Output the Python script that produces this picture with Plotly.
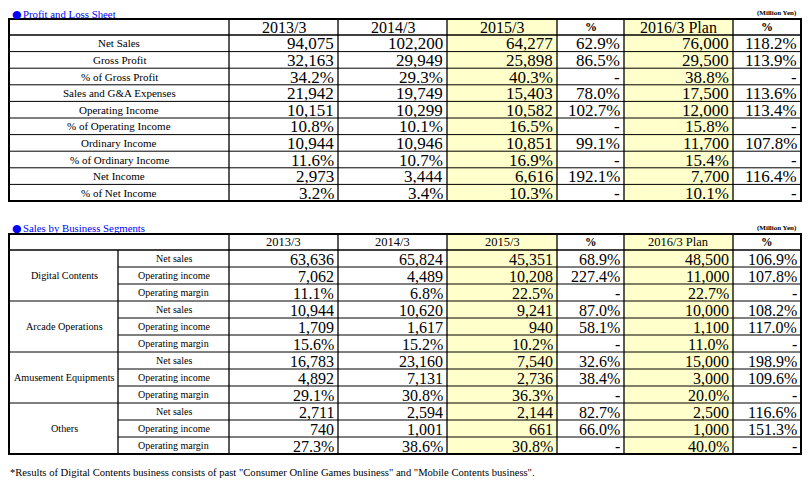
import plotly.graph_objects as go

# ---- data ----
headers = ["2013/3", "2014/3", "2015/3", "%", "2016/3 Plan", "%"]

pl_items = ["Net Sales", "Gross Profit", "% of Gross Profit", "Sales and G&A Expenses",
            "Operating Income", "% of Operating Income", "Ordinary Income",
            "% of Ordinary Income", "Net Income", "% of Net Income"]
pl_is_pct = [False, False, True, False, False, True, False, True, False, True]
pl_2013 = [94075, 32163, 34.2, 21942, 10151, 10.8, 10944, 11.6, 2973, 3.2]
pl_2014 = [102200, 29949, 29.3, 19749, 10299, 10.1, 10946, 10.7, 3444, 3.4]
pl_2015 = [64277, 25898, 40.3, 15403, 10582, 16.5, 10851, 16.9, 6616, 10.3]
pl_yoy = [62.9, 86.5, None, 78.0, 102.7, None, 99.1, None, 192.1, None]
pl_2016 = [76000, 29500, 38.8, 17500, 12000, 15.8, 11700, 15.4, 7700, 10.1]
pl_plan_pct = [118.2, 113.9, None, 113.6, 113.4, None, 107.8, None, 116.4, None]

seg_names = ["Digital Contents", "Arcade Operations", "Amusement Equipments", "Others"]
seg_metrics = ["Net sales", "Operating income", "Operating margin"]
seg_is_pct = [False, False, True]
seg_2013 = [63636, 7062, 11.1, 10944, 1709, 15.6, 16783, 4892, 29.1, 2711, 740, 27.3]
seg_2014 = [65824, 4489, 6.8, 10620, 1617, 15.2, 23160, 7131, 30.8, 2594, 1001, 38.6]
seg_2015 = [45351, 10208, 22.5, 9241, 940, 10.2, 7540, 2736, 36.3, 2144, 661, 30.8]
seg_yoy = [68.9, 227.4, None, 87.0, 58.1, None, 32.6, 38.4, None, 82.7, 66.0, None]
seg_2016 = [48500, 11000, 22.7, 10000, 1100, 11.0, 15000, 3000, 20.0, 2500, 1000, 40.0]
seg_plan_pct = [106.9, 107.8, None, 108.2, 117.0, None, 198.9, 109.6, None, 116.6, 151.3, None]

title1 = "Profit and Loss Sheet"
title2 = "Sales by Business Segments"
unit = "(Million Yen)"
note = ('*Results of Digital Contents business consists of past "Consumer Online Games business" '
        'and "Mobile Contents business".')

# ---- layout constants (page pixels) ----
W, H = 812, 484
OFF = 8  # page body margin
LEFT, RIGHT = 9, 801
LABEL_END = 229
SEG_END = 118
VAL_EDGES = [229, 338, 447, 557, 624, 733, 801]
YELLOW_COLS = [2, 4]
YELLOW = "#FFFFCC"
SERIF = "Liberation Serif, Times New Roman, serif"
PAD = 3


def fmt(v, pct):
    if v is None:
        return "-"
    return f"{v:.1f}%" if pct else f"{v:,}"


fig = go.Figure()
shapes = []
annos = []


def line(x0, y0, x1, y1, w=1):
    shapes.append(dict(type="line", xref="x", yref="y", x0=x0, y0=y0, x1=x1, y1=y1,
                       line=dict(color="black", width=w)))


def text(x, y, s, size, anchor="center", color="black", bold=False, h=None, family=SERIF):
    a = dict(x=x, y=y, xref="x", yref="y", text=f"<b>{s}</b>" if bold else s,
             showarrow=False, xanchor=anchor, yanchor="middle", borderpad=0,
             font=dict(family=family, size=size, color=color))
    if h:
        a["height"] = h
    annos.append(a)


def draw_table(top, head_h, row_h, n_rows, cols, hfont, pfont, vfont, split_groups=None):
    bottom = top + head_h + n_rows * row_h
    for c in YELLOW_COLS:
        shapes.append(dict(type="rect", xref="x", yref="y", x0=VAL_EDGES[c], x1=VAL_EDGES[c + 1],
                           y0=top, y1=bottom, fillcolor=YELLOW, line=dict(width=0), layer="below"))
    line(LEFT, top + head_h, RIGHT, top + head_h, 1.3)
    for r in range(1, n_rows):
        y = top + head_h + r * row_h
        x0 = SEG_END if (split_groups and r % split_groups != 0) else LEFT
        line(x0, y, RIGHT, y, 1)
    for x in VAL_EDGES[:-1]:
        line(x, top, x, bottom, 1.3)
    if split_groups:
        line(SEG_END, top + head_h, SEG_END, bottom, 1.3)
    shapes.append(dict(type="rect", xref="x", yref="y", x0=LEFT, x1=RIGHT, y0=top, y1=bottom,
                       line=dict(color="black", width=2)))
    for i, hd in enumerate(headers):
        cx = (VAL_EDGES[i] + VAL_EDGES[i + 1]) / 2
        if hd == "%":
            text(cx, top + head_h / 2, hd, pfont, bold=True, h=head_h - 2)
        else:
            text(cx, top + head_h / 2, hd, hfont, h=head_h - 2)
    for i, (vals, pcts) in enumerate(cols):
        for r in range(n_rows):
            y = top + head_h + (r + 0.5) * row_h
            text(VAL_EDGES[i + 1] - PAD, y + 0.5, fmt(vals[r], pcts[r]), vfont,
                 anchor="right", h=row_h - 2)


# ---- table 1 ----
t1_top, t1_head, t1_row = 19, 16, 16.6
always1 = [True] * len(pl_items)
draw_table(t1_top, t1_head, t1_row, len(pl_items),
           [(pl_2013, pl_is_pct), (pl_2014, pl_is_pct), (pl_2015, pl_is_pct), (pl_yoy, always1),
            (pl_2016, pl_is_pct), (pl_plan_pct, always1)], 16, 12, 17)
for r, item in enumerate(pl_items):
    text((LEFT + LABEL_END) / 2, t1_top + t1_head + (r + 0.5) * t1_row, item, 11)

# ---- table 2 ----
t2_top, t2_head, t2_row = 234, 16, 17
n2 = len(seg_names) * len(seg_metrics)
pcts2 = seg_is_pct * len(seg_names)
always2 = [True] * n2
draw_table(t2_top, t2_head, t2_row, n2,
           [(seg_2013, pcts2), (seg_2014, pcts2), (seg_2015, pcts2), (seg_yoy, always2),
            (seg_2016, pcts2), (seg_plan_pct, always2)], 12.5, 11.5, 16,
           split_groups=len(seg_metrics))
for g, name in enumerate(seg_names):
    gy = t2_top + t2_head + (g + 0.5) * len(seg_metrics) * t2_row
    text((LEFT + SEG_END) / 2 + 0.5, gy, name, 10.2)
    for m, metric in enumerate(seg_metrics):
        y = t2_top + t2_head + (g * len(seg_metrics) + m + 0.5) * t2_row
        text((SEG_END + LABEL_END) / 2, y, metric, 10)

# ---- titles and notes ----
for ty, title in [(13.5, title1), (228, title2)]:
    text(10.5, ty, "\u25cf", 11, anchor="left", color="#0000FF", h=10, family="DejaVu Sans")
    text(21.5, ty, title, 10.8, anchor="left", color="#0000FF", h=10)
text(798, 13, unit, 7, anchor="right", bold=True)
text(798, 228, unit, 7, anchor="right", bold=True)
text(LEFT, 472, note, 10.6, anchor="left")

fig.update_layout(
    width=W - OFF, height=H - OFF,
    margin=dict(l=0, r=0, t=0, b=0),
    plot_bgcolor="white", paper_bgcolor="white",
    shapes=shapes, annotations=annos, showlegend=False,
    xaxis=dict(range=[OFF, W], visible=False, fixedrange=True),
    yaxis=dict(range=[H, OFF], visible=False, fixedrange=True),
)
fig.add_trace(go.Scatter(x=[], y=[]))

fig.write_html("out.html")
